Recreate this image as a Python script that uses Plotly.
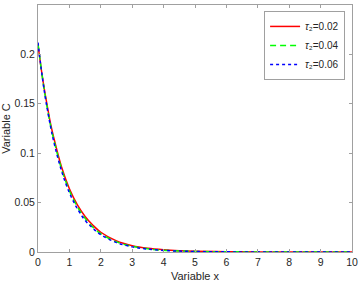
import plotly.graph_objects as go

x_vals = [0, 0.1, 0.2, 0.3, 0.4, 0.5, 0.75, 1.0, 1.25, 1.5, 1.75, 2.0, 2.5, 3.0, 3.5, 4.0, 4.5, 5.0, 6.0, 7.0, 8.0, 9.0, 10.0]
c_tau002 = [0.210, 0.186, 0.165, 0.147, 0.130, 0.116, 0.086, 0.064, 0.048, 0.036, 0.027, 0.020, 0.0112, 0.0064, 0.0037, 0.0022, 0.0013, 0.0008, 0.0003, 0.00012, 0.00005, 0.00002, 0.00001]
c_tau004 = [0.211, 0.186, 0.164, 0.145, 0.128, 0.114, 0.084, 0.062, 0.046, 0.034, 0.025, 0.0185, 0.0102, 0.0057, 0.0032, 0.0018, 0.0011, 0.0006, 0.0002, 0.00008, 0.00003, 0.00001, 0.00001]
c_tau006 = [0.212, 0.186, 0.163, 0.144, 0.127, 0.112, 0.082, 0.060, 0.044, 0.032, 0.024, 0.0175, 0.0095, 0.0052, 0.0029, 0.0016, 0.0009, 0.0005, 0.00015, 0.00005, 0.00002, 0.00001, 0.00001]
series_names = ["<i>τ</i>₂=0.02", "<i>τ</i>₂=0.04", "<i>τ</i>₂=0.06"]
x_ticks = [0, 1, 2, 3, 4, 5, 6, 7, 8, 9, 10]
y_ticks = [0, 0.05, 0.1, 0.15, 0.2, 0.25]
y_tick_labels = ["0", "0.05", "0.1", "0.15", "0.2", "0.25"]

fig = go.Figure()
fig.add_trace(go.Scatter(x=x_vals, y=c_tau002, mode="lines", name=series_names[0],
                         line=dict(color="#ff0000", width=1.5, shape="spline")))
fig.add_trace(go.Scatter(x=x_vals, y=c_tau004, mode="lines", name=series_names[1],
                         line=dict(color="#00ff00", width=1.5, dash="6px,4px", shape="spline")))
fig.add_trace(go.Scatter(x=x_vals, y=c_tau006, mode="lines", name=series_names[2],
                         line=dict(color="#0000ff", width=1.5, dash="dot", shape="spline")))

axis_common = dict(showline=True, linecolor="#a0a0a0", linewidth=1, mirror="ticks",
                   ticks="inside", ticklen=3, tickcolor="#a0a0a0", showgrid=False,
                   zeroline=False, automargin=False,
                   tickfont=dict(family="Liberation Sans, Arial", size=10.5, color="#262626"))

fig.update_layout(
    width=359, height=282,
    margin=dict(l=38, r=7, t=5, b=30),
    paper_bgcolor="white", plot_bgcolor="white",
    font=dict(family="Liberation Sans, Arial", size=10.5, color="#262626"),
    xaxis=dict(range=[0, 10], tickvals=x_ticks, ticklabeloverflow="allow",
               title=dict(text="Variable x", standoff=7, font=dict(size=11)), **axis_common),
    yaxis=dict(range=[0, 0.25], tickvals=y_ticks, ticktext=y_tick_labels,
               title=dict(text="Variable C", standoff=3, font=dict(size=11)), **axis_common),
    legend=dict(x=0.978, xanchor="right", y=0.976, yanchor="top",
                bgcolor="white", bordercolor="#a0a0a0", borderwidth=1,
                font=dict(size=10, color="#262626"), itemwidth=30,
                tracegroupgap=0),
    showlegend=True,
)

fig.write_html("out.html", config={"displayModeBar": False},
               post_script="document.body.style.margin='0';document.body.style.overflow='hidden';")
